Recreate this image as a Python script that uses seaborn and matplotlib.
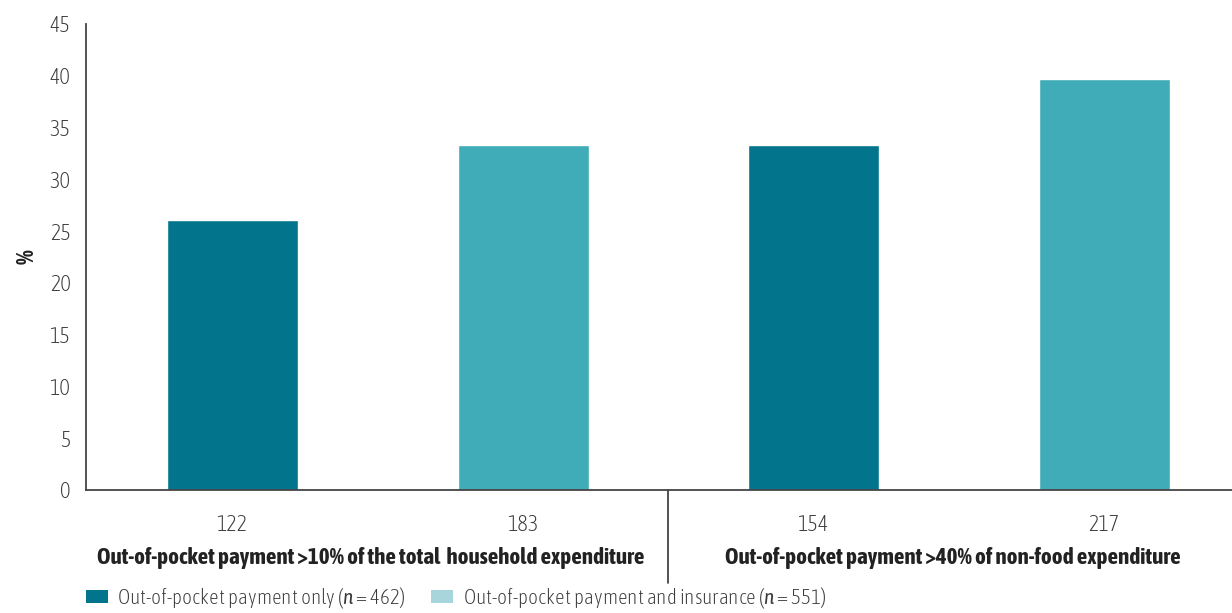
import matplotlib
matplotlib.use("Agg")
import matplotlib.pyplot as plt
import matplotlib.transforms as mtransforms
from matplotlib.patches import Patch
import pandas as pd
import seaborn as sns

# Data
bar_ids = ["a", "b", "c", "d"]
values = [26.1, 33.3, 33.3, 39.7]
count_labels = ["122", "183", "154", "217"]
groups = ["Out-of-pocket payment >10% of the total  household expenditure",
          "Out-of-pocket payment >40% of non-food expenditure"]
series = ["Out-of-pocket payment only", "Out-of-pocket payment and insurance",
          "Out-of-pocket payment only", "Out-of-pocket payment and insurance"]
legend_labels = ["Out-of-pocket payment only ($\\it{n}$ = 462)",
                 "Out-of-pocket payment and insurance ($\\it{n}$ = 551)"]
y_ticks = [0, 5, 10, 15, 20, 25, 30, 35, 40, 45]

dark = "#02758C"
light = "#3FACB8"
light_legend = "#A8D4DC"
txt = "#3a3a3a"

df = pd.DataFrame({"bar": bar_ids, "value": values, "series": series})

sns.set_style("white")
plt.rcParams["font.family"] = ["Asap Condensed", "DejaVu Sans"]
plt.rcParams["mathtext.fontset"] = "custom"
plt.rcParams["mathtext.it"] = "Asap Condensed:italic:light"
plt.rcParams["mathtext.rm"] = "Asap Condensed:light"

fig = plt.figure(figsize=(12.32, 6.13), dpi=100)
ax = fig.add_axes([86 / 1232, 1 - 490 / 613, 1 - 86 / 1232, (490 - 24) / 613])

sns.barplot(data=df, x="bar", y="value", hue="series",
            palette={"Out-of-pocket payment only": dark,
                     "Out-of-pocket payment and insurance": light},
            width=0.45, dodge=False, legend=False, ax=ax, saturation=1)

ax.set_xlim(-0.505, 3.44)
ax.set_ylim(0, 45)
ax.set_yticks(y_ticks)
ax.set_yticklabels([str(t) for t in y_ticks], fontsize=16, color=txt, fontweight="light")
ax.set_xticks(range(len(bar_ids)))
ax.set_xticklabels(count_labels, fontsize=16, color=txt, fontweight="light")
ax.tick_params(axis="both", direction="out", length=8, width=1.2, color="#444444")
ax.tick_params(axis="x", pad=9)
ax.tick_params(axis="y", pad=3)
ax.set_xlabel("")
ax.set_ylabel("%", fontsize=17, fontweight="bold", color="#222222", labelpad=8)

for side in ["top", "right"]:
    ax.spines[side].set_visible(False)
for side in ["left", "bottom"]:
    ax.spines[side].set_color("#444444")
    ax.spines[side].set_linewidth(1.3)

# group labels and divider below the axis
trans = mtransforms.blended_transform_factory(ax.transData, fig.transFigure)
ax.text(0.475, 1 - 558 / 613, groups[0], transform=trans, ha="center", va="center",
        fontsize=16.6, fontweight="bold", color="#222222")
ax.text(2.48, 1 - 558 / 613, groups[1], transform=trans, ha="center", va="center",
        fontsize=16.6, fontweight="bold", color="#222222")
ax.plot([1.5, 1.5], [1 - 490 / 613, 1 - 583 / 613], transform=trans,
        color="#333333", lw=1.2, clip_on=False)

handles = [Patch(facecolor=dark, edgecolor="none"),
           Patch(facecolor=light_legend, edgecolor="none")]
fig.legend(handles, legend_labels, loc="lower left", bbox_to_anchor=(0.054, -0.027),
           ncol=2, frameon=False, handlelength=1.05, handleheight=0.6,
           handletextpad=0.45, columnspacing=1.2, labelcolor=txt,
           prop={"weight": "light", "size": 15.2})

fig.savefig("out.png", dpi=100)
